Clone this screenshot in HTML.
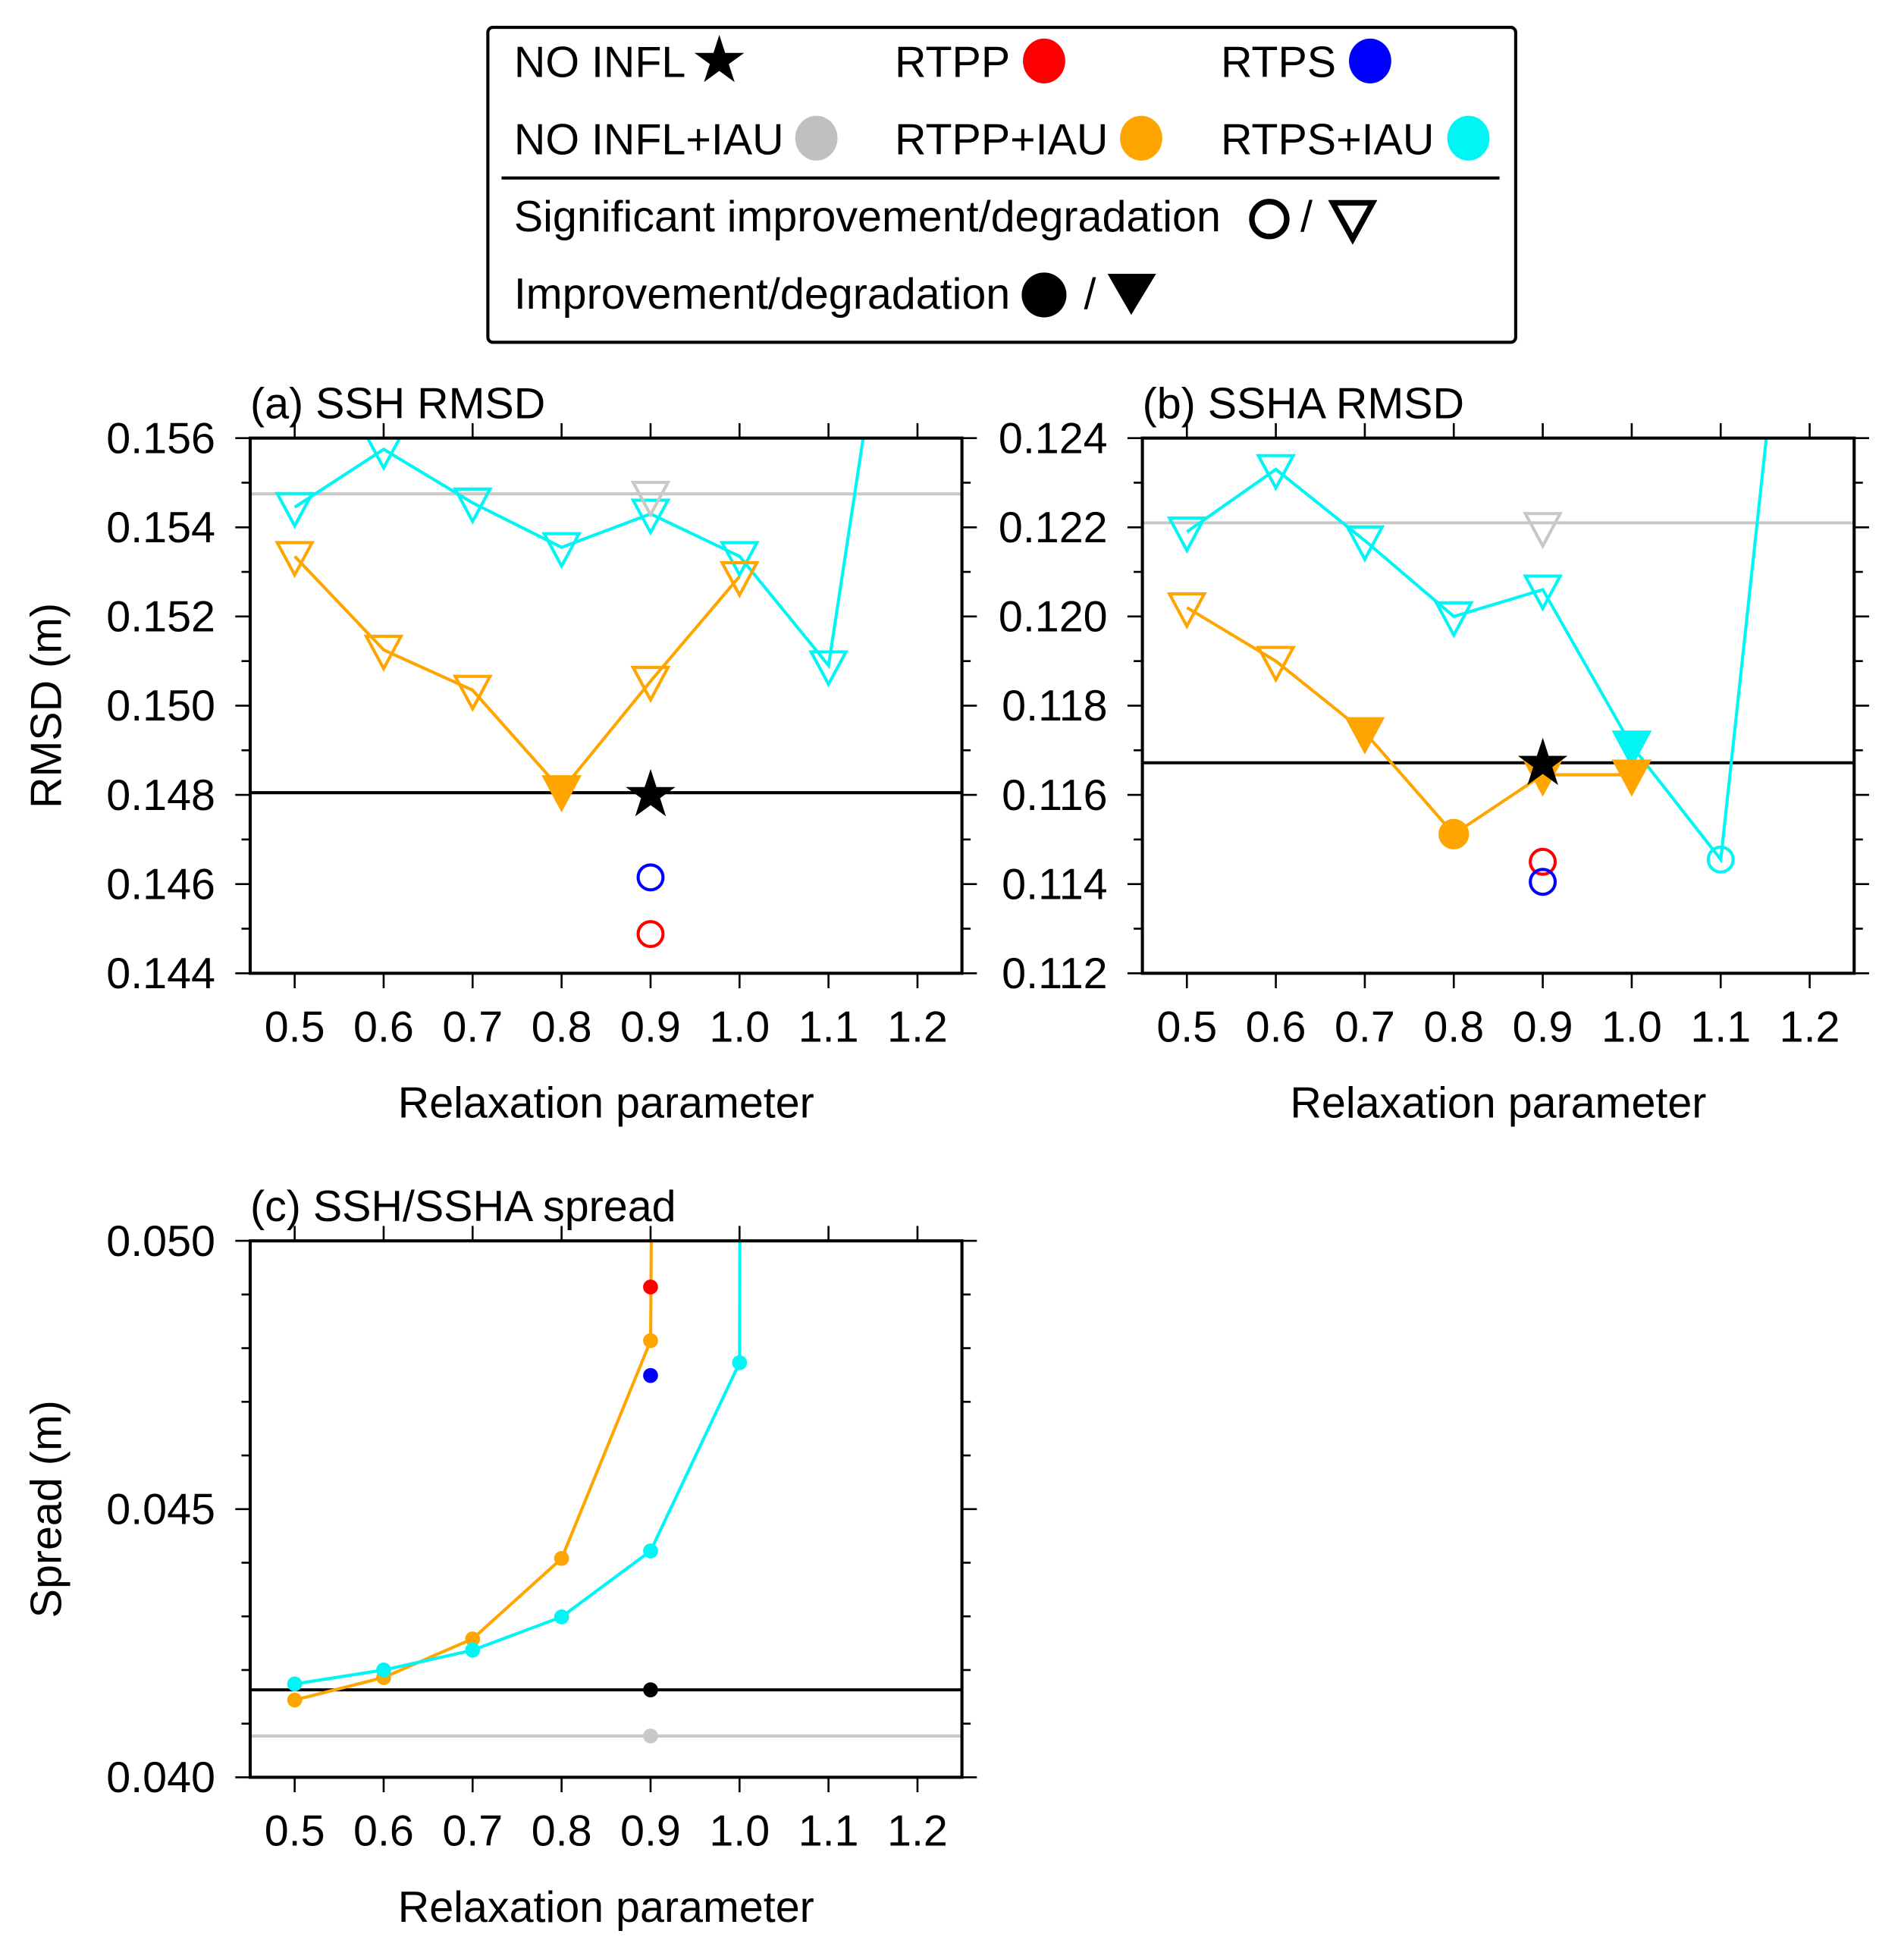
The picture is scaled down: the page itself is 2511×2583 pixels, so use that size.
<!DOCTYPE html>
<html><head><meta charset="utf-8"><style>
html,body{margin:0;padding:0;background:#fff;}
svg{display:block;font-family:"Liberation Sans",Arial,sans-serif;}
</style></head><body>
<svg id="fig" width="2511" height="2583" viewBox="0 0 1530 1574"></svg>
<script>
// ---- data ----
const xCats = [0.5,0.6,0.7,0.8,0.9,1.0,1.1,1.2];
const xTickLabels = ["0.5","0.6","0.7","0.8","0.9","1.0","1.1","1.2"];
// panel a
const aTicks = [0.144,0.146,0.148,0.150,0.152,0.154,0.156];
const aTickLabels = ["0.144","0.146","0.148","0.150","0.152","0.154","0.156"];
const aCyanX = [0.5,0.6,0.7,0.8,0.9,1.0,1.1,1.2];
const aCyan = [0.15445,0.15575,0.15455,0.15355,0.1543,0.15335,0.1509,0.1640];
const aCyanM = ["ht","ht","ht","ht","ht","ht","ht","none"];
const aOrX = [0.5,0.6,0.7,0.8,0.9,1.0];
const aOr = [0.15335,0.15125,0.15035,0.1481,0.15055,0.1529];
const aOrM = ["ht","ht","ht","ft","ht","ht"];
const aGrayLine = 0.15475, aGrayMark = 0.1547;
const aBlackLine = 0.14805, aStar = 0.14805;
const aRed = 0.14488, aBlue = 0.14615;
// panel b
const bTicks = [0.112,0.114,0.116,0.118,0.120,0.122,0.124];
const bTickLabels = ["0.112","0.114","0.116","0.118","0.120","0.122","0.124"];
const bCyanX = [0.5,0.6,0.7,0.8,0.9,1.0,1.1,1.2];
const bCyan = [0.1219,0.1233,0.1217,0.1200,0.1206,0.1171,0.11455,0.1330];
const bCyanM = ["ht","ht","ht","ht","ht","ft","hc","none"];
const bOrX = [0.5,0.6,0.7,0.8,0.9,1.0];
const bOr = [0.1202,0.1190,0.1174,0.11512,0.11645,0.11645];
const bOrM = ["ht","ht","ft","fc","ft","ft"];
const bGrayLine = 0.1221, bGrayMark = 0.1220;
const bBlackLine = 0.11672, bStar = 0.11675;
const bRed = 0.1145, bBlue = 0.11405;
// panel c
const cTicks = [0.040,0.045,0.050];
const cTickLabels = ["0.040","0.045","0.050"];
const cOrX = [0.5,0.6,0.7,0.8,0.9,1.0];
const cOr = [0.04144,0.04186,0.04258,0.04408,0.04814,0.30];
const cCyanX = [0.5,0.6,0.7,0.8,0.9,1.0,1.1];
const cCyan = [0.04174,0.04200,0.04237,0.04299,0.04422,0.04773,0.90];
const cBlackLine = 0.04163, cBlackDot = 0.04163;
const cGrayLine = 0.04077, cGrayDot = 0.04077;
const cRed = 0.04914, cBlue = 0.04749;

const FS = 35;
const NS="http://www.w3.org/2000/svg";
const svg=document.getElementById('fig');
const CY="#00f5f5", OR="#ffa500", GR="#c8c8c8";
function mk(tag,attrs,parent){const e=document.createElementNS(NS,tag);for(const k in attrs)e.setAttribute(k,attrs[k]);(parent||svg).appendChild(e);return e;}
function txt(s,x,y,size,anchor,parent){const t=mk('text',{x:x,y:y,'font-size':size,'text-anchor':anchor||'start',fill:'#000'},parent);t.textContent=s;return t;}

function marker(g,type,x,y,color){
  let e;
  if(type==="ht"||type==="ft"){
    const w=14,h=26;
    e=mk('polygon',{points:`${x-w},${y-h/2+2} ${x+w},${y-h/2+2} ${x},${y+h/2+2}`,fill:type==="ft"?color:"none",stroke:color,'stroke-width':2.5},g);
  } else if(type==="hc"||type==="fc"){
    e=mk('circle',{cx:x,cy:y,r:type==="fc"?11:10,fill:type==="fc"?color:"none",stroke:color,'stroke-width':2.5},g);
  } else if(type==="dot"){
    e=mk('circle',{cx:x,cy:y,r:6,fill:color},g);
  } else if(type==="star"){
    const pts=[];for(let i=0;i<10;i++){const r=i%2?8:21;const a=-Math.PI/2+i*Math.PI/5;pts.push((x+r*Math.cos(a)).toFixed(1)+","+(y+r*Math.sin(a)+2).toFixed(1));}
    e=mk('polygon',{points:pts.join(" "),fill:"#000"},g);
  }
  return e;
}

function panel(o){
  const g=mk('g',{});
  
  
  const X=v=>o.x0+(v-0.45)/0.8*(o.x1-o.x0);
  const Y=v=>o.y1-(v-o.ymin)/(o.ymax-o.ymin)*(o.y1-o.y0);
  const clipId=o.name+"-clip";
  const cp=mk('clipPath',{id:clipId},g);mk('rect',{x:o.x0,y:o.y0,width:o.x1-o.x0,height:o.y1-o.y0},cp);
  const tg=mk('g',{stroke:'#000','stroke-width':1.6},g);
  xCats.forEach((v,i)=>{
    mk('line',{x1:X(v),x2:X(v),y1:o.y1,y2:o.y1+12},tg);
    mk('line',{x1:X(v),x2:X(v),y1:o.y0,y2:o.y0-12},tg);
    const t=txt(xTickLabels[i],X(v),o.y1+55,FS,'middle',g);
    
    
  });
  for(let v=o.ymin;v<=o.ymax+1e-9;v+=o.minor){
    const maj=o.ticks.some(t=>Math.abs(t-v)<1e-7);
    const L=maj?12:7;
    mk('line',{x1:o.x0-L,x2:o.x0,y1:Y(v),y2:Y(v)},tg);
    mk('line',{x1:o.x1,x2:o.x1+L,y1:Y(v),y2:Y(v)},tg);
  }
  o.ticks.forEach((v,i)=>{
    const t=txt(o.tickLabels[i],o.x0-28,Y(v)+12,FS,'end',g);
    
    
  });
  const title=txt(o.title,o.x0,o.y0-16,FS,'start',g);
  
  
  const xt=txt("Relaxation parameter",(o.x0+o.x1)/2,o.y1+116,FS,'middle',g);
  
  
  if(o.ytitle){
    const yt=txt(o.ytitle,0,0,FS,'middle',g);
    yt.setAttribute('transform',`translate(49,${(o.y0+o.y1)/2}) rotate(-90)`);
    
    
  }
  const pg=mk('g',{'clip-path':`url(#${clipId})`},g);
  o.hlines.forEach(h=>{
    const l=mk('line',{x1:o.x0,x2:o.x1,y1:Y(h.v),y2:Y(h.v),stroke:h.c,'stroke-width':2.5},pg);
    
    
  });
  o.series.forEach(s=>{
    const pts=s.x.map((v,i)=>X(v).toFixed(1)+","+Y(s.y[i]).toFixed(1)).join(" ");
    const pl=mk('polyline',{points:pts,fill:'none',stroke:s.c,'stroke-width':2.5},pg);
    
    
  });
  o.series.forEach(s=>{
    s.x.forEach((v,i)=>{
      const m=s.m?s.m[i]:"dot";
      if(m==="none")return;
      const e=marker(pg,m,X(v),Y(s.y[i]),s.c);
      
      
    });
  });
  o.points.forEach(p=>{
    const e=marker(pg,p.m,X(0.9),Y(p.v),p.c);
    
    
  });
  const fr=mk('rect',{x:o.x0,y:o.y0,width:o.x1-o.x0,height:o.y1-o.y0,fill:'none',stroke:'#000','stroke-width':2.5},g);
  
  
}

panel({name:'panel-a-ssh-rmsd',title:'(a) SSH RMSD',ytitle:'RMSD (m)',x0:201,x1:773,y0:352,y1:782,ymin:0.144,ymax:0.156,minor:0.001,ticks:aTicks,tickLabels:aTickLabels,
  hlines:[{v:aGrayLine,c:GR,n:'no-infl-iau-line'},{v:aBlackLine,c:'#000',n:'no-infl-line'}],
  series:[{x:aCyanX,y:aCyan,m:aCyanM,c:CY,n:'rtps-iau'},{x:aOrX,y:aOr,m:aOrM,c:OR,n:'rtpp-iau'}],
  points:[{v:aGrayMark,m:'ht',c:GR,n:'no-infl-iau-marker'},{v:aStar,m:'star',c:'#000',n:'no-infl-star'},{v:aBlue,m:'hc',c:'#0000ff',n:'rtps-marker'},{v:aRed,m:'hc',c:'#ff0000',n:'rtpp-marker'}]});
panel({name:'panel-b-ssha-rmsd',title:'(b) SSHA RMSD',x0:918,x1:1490,y0:352,y1:782,ymin:0.112,ymax:0.124,minor:0.001,ticks:bTicks,tickLabels:bTickLabels,
  hlines:[{v:bGrayLine,c:GR,n:'no-infl-iau-line'},{v:bBlackLine,c:'#000',n:'no-infl-line'}],
  series:[{x:bCyanX,y:bCyan,m:bCyanM,c:CY,n:'rtps-iau'},{x:bOrX,y:bOr,m:bOrM,c:OR,n:'rtpp-iau'}],
  points:[{v:bGrayMark,m:'ht',c:GR,n:'no-infl-iau-marker'},{v:bStar,m:'star',c:'#000',n:'no-infl-star'},{v:bRed,m:'hc',c:'#ff0000',n:'rtpp-marker'},{v:bBlue,m:'hc',c:'#0000ff',n:'rtps-marker'}]});
panel({name:'panel-c-spread',title:'(c) SSH/SSHA spread',ytitle:'Spread (m)',x0:201,x1:773,y0:997,y1:1428,ymin:0.040,ymax:0.050,minor:0.001,ticks:cTicks,tickLabels:cTickLabels,
  hlines:[{v:cBlackLine,c:'#000',n:'no-infl-line'},{v:cGrayLine,c:GR,n:'no-infl-iau-line'}],
  series:[{x:cOrX,y:cOr,c:OR,n:'rtpp-iau'},{x:cCyanX,y:cCyan,c:CY,n:'rtps-iau'}],
  points:[{v:cRed,m:'dot',c:'#ff0000',n:'rtpp-dot'},{v:cBlue,m:'dot',c:'#0000ff',n:'rtps-dot'},{v:cBlackDot,m:'dot',c:'#000',n:'no-infl-dot'},{v:cGrayDot,m:'dot',c:GR,n:'no-infl-iau-dot'}]});

// legend
const lg=mk('g',{});


mk('rect',{x:392,y:22,width:826,height:253,rx:4,fill:'#fff',stroke:'#000','stroke-width':2.5},lg);
mk('line',{x1:403,x2:1205,y1:143,y2:143,stroke:'#000','stroke-width':2.5},lg);
const entries=[
 ['NO INFL',413,62,'star','#000',578,49],
 ['RTPP',719,62,'fc','#ff0000',839,49],
 ['RTPS',981,62,'fc','#0000ff',1101,49],
 ['NO INFL+IAU',413,124,'fc','#c0c0c0',656,111],
 ['RTPP+IAU',719,124,'fc',OR,917,111],
 ['RTPS+IAU',981,124,'fc',CY,1180,111]];
entries.forEach(e=>{
  const t=txt(e[0],e[1],e[2],FS,'start',lg);
  
  
  let m;
  if(e[3]==='star'){m=marker(lg,'star',e[5],e[6]-2,'#000');}
  else m=mk('ellipse',{cx:e[5],cy:e[6],rx:17,ry:18,fill:e[4]},lg);
  
  
});
const s1=txt('Significant improvement/degradation',413,186,FS,'start',lg);


mk('circle',{cx:1020,cy:176,r:14,fill:'none',stroke:'#000','stroke-width':4.5},lg);
txt('/',1045,186,FS,'start',lg);
mk('polygon',{points:'1071,163 1103,163 1087,192',fill:'none',stroke:'#000','stroke-width':4.5},lg);
const s2=txt('Improvement/degradation',413,248,FS,'start',lg);


mk('ellipse',{cx:839,cy:237,rx:18,ry:18,fill:'#000'},lg);
txt('/',871,248,FS,'start',lg);
mk('polygon',{points:'890,220 929,220 909,253',fill:'#000'},lg);
</script>
</body></html>
